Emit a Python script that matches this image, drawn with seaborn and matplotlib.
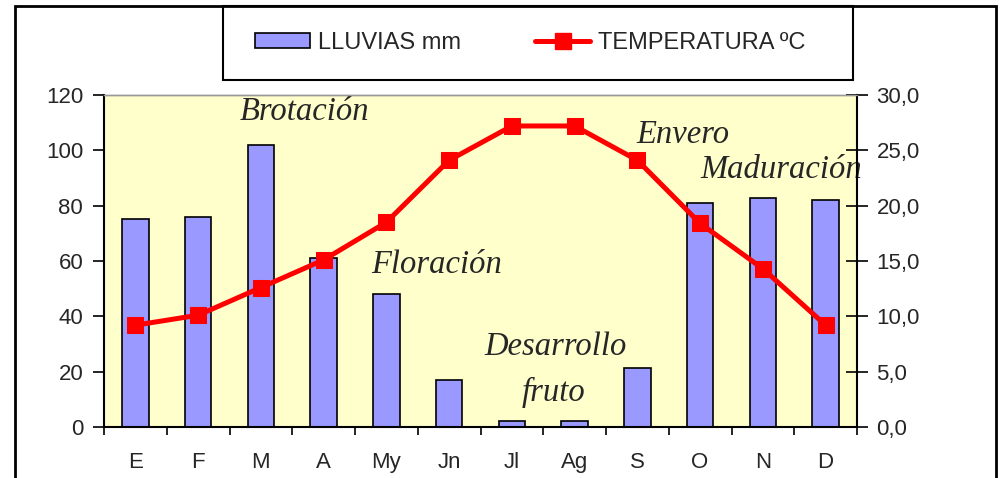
import numpy as np
import pandas as pd
import matplotlib
matplotlib.use("Agg")
import matplotlib.pyplot as plt
import matplotlib.ticker as mticker
from matplotlib.patches import Rectangle
import seaborn as sns

# Data
meses = ['E', 'F', 'M', 'A', 'My', 'Jn', 'Jl', 'Ag', 'S', 'O', 'N', 'D']
lluvias = [75.2, 76, 102, 61, 48.2, 17, 2, 2, 21.3, 81, 82.8, 82]
temperatura = [9.2, 10.1, 12.6, 15.1, 18.5, 24.1, 27.2, 27.2, 24.1, 18.4, 14.3, 9.2]

fases = ['Brotación', 'Floración', 'Desarrollo', 'fruto', 'Envero', 'Maduración']
fase_x = [2.7, 4.8, 6.69, 6.66, 8.72, 10.3]
fase_y = [113.8, 58.5, 29, 12.6, 105.5, 93]

df = pd.DataFrame({'mes': meses, 'lluvias': lluvias, 'temp': temperatura,
                   'pos': np.arange(len(meses))})

sns.set_style("ticks")
plt.rcParams['font.family'] = ['Liberation Sans', 'DejaVu Sans']

fig = plt.figure(figsize=(10, 4.78), dpi=100)
ax = fig.add_axes([0.104, 0.1067, 0.753, 0.6946])
ax.set_facecolor('#FFFFCC')

sns.barplot(data=df, x='mes', y='lluvias', ax=ax, color='#9999FF',
            width=0.42, edgecolor='black', linewidth=1.2, saturation=1)

ax2 = ax.twinx()
sns.lineplot(data=df, x='pos', y='temp', ax=ax2, color='red', linewidth=3.6,
             marker='s', markersize=11, markeredgecolor='red')

# Axes limits and ticks
ax.set_xlim(-0.5, 11.5)
ax.set_ylim(0, 120)
ax.set_yticks(np.arange(0, 121, 20))
ax2.set_ylim(0, 30)
ax2.set_yticks(np.arange(0, 31, 5))
ax2.yaxis.set_major_formatter(mticker.FuncFormatter(lambda v, p: f"{v:.1f}".replace('.', ',')))

ax.set_xlabel('')
ax.set_ylabel('')
ax2.set_xlabel('')
ax2.set_ylabel('')

ax.set_xticks(np.arange(len(meses)))
ax.set_xticklabels(meses)
ax.set_xticks(np.arange(-0.5, 12, 1), minor=True)
ax.tick_params(axis='x', which='major', length=0, pad=18, labelsize=16)
ax.tick_params(axis='x', which='minor', length=6, width=1.2, direction='out', color='black')
ax.tick_params(axis='y', length=8, width=1.2, direction='out', labelsize=16, pad=7, color='black')
ax2.tick_params(axis='y', length=16, width=1.2, direction='inout', labelsize=16, pad=6, color='black')

for a in (ax, ax2):
    for s in ('left', 'bottom', 'right'):
        a.spines[s].set_color('black')
        a.spines[s].set_linewidth(1.5)
    a.spines['top'].set_color('#999999')
    a.spines['top'].set_linewidth(1)
ax.spines['right'].set_visible(False)
ax2.spines['left'].set_visible(False)
ax2.spines['bottom'].set_visible(False)

# Phase annotations
for txt, x, y in zip(fases, fase_x, fase_y):
    ax.text(x, y, txt, ha='center', va='center', fontsize=23.5, style='italic',
            family=['Liberation Serif', 'DejaVu Serif'], zorder=5, clip_on=False)

# Legend (frame drawn separately)
fig.add_artist(Rectangle((0.223, 1 - 80 / 478), 0.630, 74 / 478, transform=fig.transFigure,
                         facecolor='white', edgecolor='black', linewidth=1.5, zorder=1))
handles = [plt.Rectangle((0, 0), 1, 1, facecolor='#9999FF', edgecolor='black', linewidth=1.2),
           plt.Line2D([0], [0], color='red', linewidth=3.6, marker='s', markersize=11)]
leg = fig.legend(handles, ['LLUVIAS mm', 'TEMPERATURA ºC'], ncol=2,
                 bbox_to_anchor=(0.255, 1 - 43 / 478), loc='center left',
                 fontsize=17, frameon=False, borderpad=0, borderaxespad=0,
                 handlelength=2.33, handleheight=0.6, handletextpad=0.34,
                 columnspacing=3.15)
leg.set_zorder(2)

# Outer chart border
fig.add_artist(Rectangle((0.015, -0.1), 0.981, 1.1 - 6 / 478, transform=fig.transFigure,
                         fill=False, edgecolor='black', linewidth=2, clip_on=False))

fig.savefig('out.png', dpi=100)
